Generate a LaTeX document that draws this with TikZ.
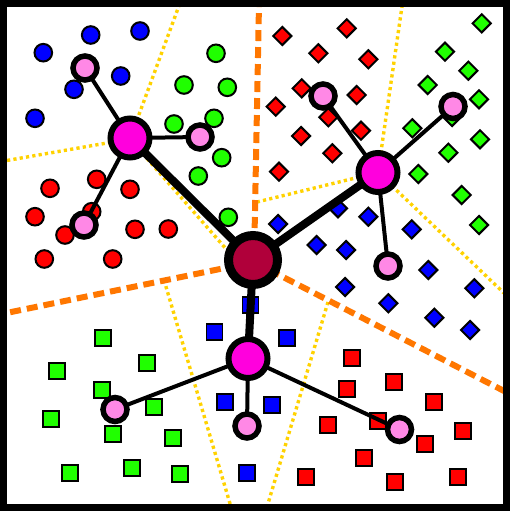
\documentclass[tikz,border=0pt]{standalone}
\usetikzlibrary{shapes.geometric}
\pgfdeclarelayer{back}
\pgfdeclarelayer{edges}
\pgfsetlayers{back,edges,main}
\definecolor{hubc}{RGB}{255,0,221}
\definecolor{leafc}{RGB}{255,136,230}
\definecolor{centc}{RGB}{176,0,58}
\definecolor{ptred}{RGB}{255,0,0}
\definecolor{ptgreen}{RGB}{32,255,0}
\definecolor{ptblue}{RGB}{0,0,255}
\definecolor{bordc}{RGB}{255,119,0}
\definecolor{dotc}{RGB}{255,210,0}
\begin{document}
\begin{tikzpicture}[x=1pt,y=-1pt,
  pt/.style={draw=black,line width=2pt,inner sep=0pt},
  circpt/.style={pt,circle,minimum size=17.6pt},
  diapt/.style={pt,diamond,aspect=1,minimum width=19pt,minimum height=19pt},
  sqpt/.style={pt,rectangle,minimum size=16pt,line width=1.8pt},
  centnode/.style={circle,draw=black,fill=centc,line width=9pt,minimum size=49pt,inner sep=0pt},
  hubnode/.style={circle,draw=black,fill=hubc,line width=6pt,minimum size=39pt,inner sep=0pt},
  leafnode/.style={circle,draw=black,fill=leafc,line width=5.5pt,minimum size=24pt,inner sep=0pt},
  thickedge/.style={draw=black,line width=8pt},
  thinedge/.style={draw=black,line width=4pt},
  classline/.style={draw=bordc,line width=6pt,dash pattern=on 11pt off 6pt},
  subline/.style={draw=dotc,line width=3.4pt,dash pattern=on 3.2pt off 3.2pt}
]
\useasboundingbox (0,0) rectangle (510,511);

% hub nodes
\node[centnode] (C) at (253,260) {};
\node[hubnode] (H1) at (130,138) {};
\node[hubnode] (H2) at (378,172.5) {};
\node[hubnode] (H3) at (248,358.5) {};
\node[leafnode] (L11) at (85,68) {};
\node[leafnode] (L12) at (200,137) {};
\node[leafnode] (L13) at (84,225) {};
\node[leafnode] (L21) at (323,96) {};
\node[leafnode] (L22) at (453,106.5) {};
\node[leafnode] (L23) at (388,266) {};
\node[leafnode] (L31) at (115,409.5) {};
\node[leafnode] (L32) at (247,426) {};
\node[leafnode] (L33) at (399.5,429.5) {};

\begin{pgfonlayer}{back}
  \fill[white] (0,0) rectangle (510,511);
  % boundary coordinates
  \coordinate (J) at (254,262);
  \coordinate (oT) at (259,4);
  \coordinate (oL) at (4,313.5);
  \coordinate (oR) at (506,392);
  \coordinate (V1) at (130,139);
  \coordinate (y1a) at (180,3);
  \coordinate (y1b) at (4,161);
  \coordinate (y1c) at (241,266);
  \coordinate (y2a) at (402.5,3);
  \coordinate (y2b) at (257,202);
  \coordinate (y2c) at (506,295);
  \coordinate (y3a) at (164,280);
  \coordinate (y3b) at (231,507);
  \coordinate (y3c) at (328,302);
  \coordinate (y3d) at (267,507);
  \draw[subline] (V1) -- (y1a);
  \draw[subline] (V1) -- (y1b);
  \draw[subline] (V1) -- (y1c);
  \draw[subline] (H2.center) -- (y2a);
  \draw[subline] (H2.center) -- (y2b);
  \draw[subline] (H2.center) -- (y2c);
  \draw[subline] (y3a) -- (y3b);
  \draw[subline] (y3c) -- (y3d);
  \draw[classline] (J) -- (oT);
  \draw[classline] (J) -- (oL);
  \draw[classline] (J) -- (oR);

  % circles
  \foreach \p [count=\i] in {{90.7,35},{140,31},{43.3,52.7},{120.7,76},{74,89.3},{35,118.3}}
    \node[circpt,fill=ptblue] (bc\i) at (\p) {};
  \foreach \p [count=\i] in {{216,53.3},{184,85},{227.3,87.3},{174,124},{214,118.3},{221.7,157.7},{198.3,176},{228.3,217.3}}
    \node[circpt,fill=ptgreen] (gc\i) at (\p) {};
  \foreach \p [count=\i] in {{96.7,179.3},{50,188.3},{130,189.3},{35,216.7},{91.7,211.7},{65,235},{135,229.3},{168.3,229},{44.3,259},{112.7,259}}
    \node[circpt,fill=ptred] (rc\i) at (\p) {};

  % diamonds
  \foreach \p [count=\i] in {{282.3,36},{346.7,28.3},{318.3,53.3},{368.3,59.3},{301.7,88.3},{356.7,95},{275.7,106.7},{328.3,117.3},{361,130.7},{301,136},{332.3,153.3},{279,171.7}}
    \node[diapt,fill=ptred] (rd\i) at (\p) {};
  \foreach \p [count=\i] in {{481.7,23.3},{445,51.7},{468.3,70.7},{427.7,85},{479,99.3},{452,117},{412.3,128.3},{480,139.3},{448.3,152.7},{418.3,174},{461.7,195},{479,225}}
    \node[diapt,fill=ptgreen] (gd\i) at (\p) {};
  \foreach \p [count=\i] in {{338,208.3},{368.3,216.7},{278,224},{411.7,229.3},{316.5,245},{346,250},{428.3,270},{345,287},{474.3,288.3},{388.3,303.3},{434.3,317.7},{470,330}}
    \node[diapt,fill=ptblue] (bd\i) at (\p) {};

  % squares
  \foreach \p [count=\i] in {{102.7,338.3},{56.7,371},{146.7,363.3},{101.7,390},{50.7,419},{154.3,407.3},{113.3,434.3},{172.7,437.7},{70,473.3},{132.3,468.3},{180,474.3}}
    \node[sqpt,fill=ptgreen] (gs\i) at (\p) {};
  \foreach \p [count=\i] in {{250.5,305},{214.5,332},{287.3,338.3},{225,402.3},{272.3,405},{246.7,473.3}}
    \node[sqpt,fill=ptblue] (bs\i) at (\p) {};
  \foreach \p [count=\i] in {{351.7,357.7},{394.3,382.3},{346.7,389},{434.3,402.3},{327.7,425},{378.3,420.7},{463.3,431},{425,444.3},{364.3,457.7},{305.7,476.7},{395,481.7},{458.3,476.7}}
    \node[sqpt,fill=ptred] (rs\i) at (\p) {};
\end{pgfonlayer}

\begin{pgfonlayer}{edges}
  \draw[thickedge] (C.center) -- (H1.center);
  \draw[thickedge] (C.center) -- (H2.center);
  \draw[thickedge] (C.center) -- (H3.center);
  \foreach \h/\l in {H1/L11,H1/L12,H1/L13,H2/L21,H2/L22,H2/L23,H3/L31,H3/L32,H3/L33}
    \draw[thinedge] (\h.center) -- (\l.center);
\end{pgfonlayer}

% frame
\draw[black,line width=7pt] (3.5,3.5) rectangle (506.5,507.5);
\end{tikzpicture}
\end{document}
